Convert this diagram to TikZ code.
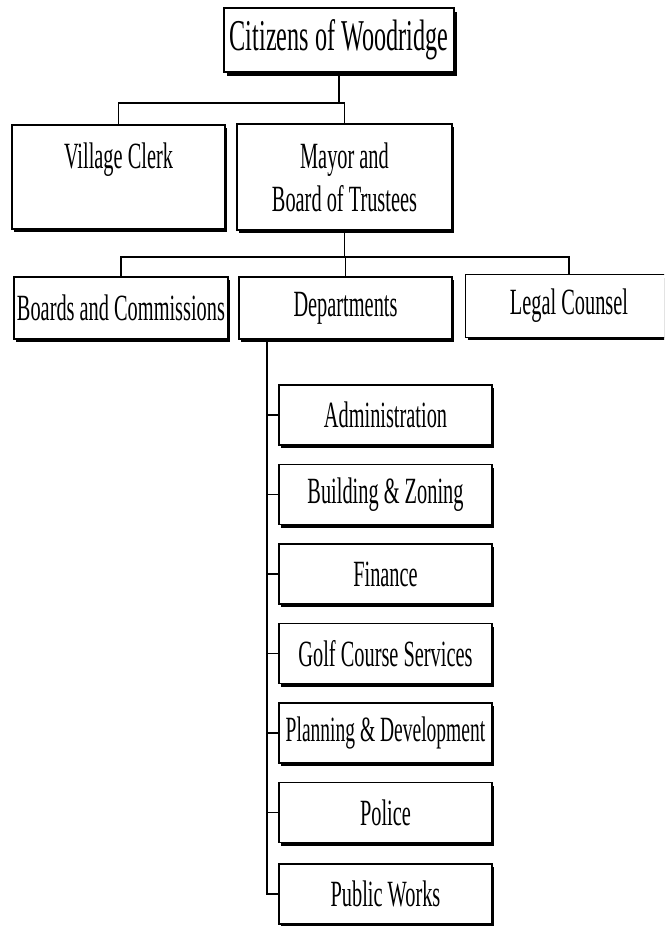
\documentclass[tikz,border=0pt]{standalone}
\usepackage{fontspec}
\setmainfont[FakeStretch=0.55]{Liberation Serif}
\newfontfamily\titlefont[FakeStretch=0.55]{Liberation Serif}
\usetikzlibrary{shadows}
\begin{document}
\begin{tikzpicture}[x=1pt,y=-1pt,
  plain/.style={draw,fill=white,inner sep=0pt,align=center},
  box/.style={plain,line width=1.3pt,font=\fontsize{37}{43}\selectfont,
    drop shadow={shadow xshift=1.5pt,shadow yshift=-3pt,fill=black,opacity=1}},
  unit/.style={box,minimum width=213pt,minimum height=60pt},
  link/.style={line width=1.2pt}]
\useasboundingbox (0,0) rectangle (664,926);
\clip (0,0) rectangle (664,926);
\fill[white] (0,0) rectangle (664,926);

\node[plain,line width=2.4pt,minimum width=230pt,minimum height=64pt,
  font=\titlefont\fontsize{44}{50}\selectfont,
  drop shadow={shadow xshift=3pt,shadow yshift=-3.5pt,fill=black,opacity=1}]
  (citizens) at (339,40) {Citizens of Woodridge};

\node[box,minimum width=213pt,minimum height=104pt] (clerk) at (118.5,177) {Village Clerk\\\mbox{}};
\node[box,minimum width=215pt,minimum height=106pt] (mayor) at (344.5,177) {Mayor and\\Board of Trustees};

\node[box,minimum width=214pt,minimum height=62pt] (boards) at (121,308) {Boards and Commissions};
\node[box,minimum width=213pt,minimum height=62pt] (depts) at (345.5,308) {Departments};
\node[box,draw=none,minimum width=206pt,minimum height=62pt] (legal) at (569,306) {Legal Counsel};
\draw[line width=1.3pt] (legal.north east) ++(30,0) -- (legal.north west)
  -- (legal.south west) -- ++(236,0);

\node[unit] (admin) at (385.5,415) {Administration};
\node[unit] (building) at (385.5,494.5) {Building \& Zoning};
\node[unit] (finance) at (385.5,574) {Finance};
\node[unit] (golf) at (385.5,653.5) {Golf Course Services};
\node[unit,font=\fontsize{35.5}{43}\selectfont] (planning) at (385.5,733) {Planning \& Development};
\node[unit] (police) at (385.5,812.5) {Police};
\node[unit] (works) at (385.5,894) {Public Works};

\coordinate (bar1) at (0,103);
\coordinate (bar2) at (0,257);
\coordinate (trunk) at (267,0);

\draw[link] (citizens.south) -- (citizens.south |- bar1);
\draw[link] (clerk.north) |- (bar1 -| mayor.north) -- (mayor.north);
\draw[link] (mayor.south) -- (mayor.south |- bar2);
\draw[link] (boards.north) |- (bar2 -| legal.north) -- (legal.north);
\draw[link] (bar2 -| depts.north) -- (depts.north);

\draw[link] (trunk |- depts.south) |- (works.west);
\draw[link] (trunk |- admin.west) -- (admin.west);
\draw[link] (trunk |- building.west) -- (building.west);
\draw[link] (trunk |- finance.west) -- (finance.west);
\draw[link] (trunk |- golf.west) -- (golf.west);
\draw[link] (trunk |- planning.west) -- (planning.west);
\draw[link] (trunk |- police.west) -- (police.west);
\end{tikzpicture}
\end{document}
